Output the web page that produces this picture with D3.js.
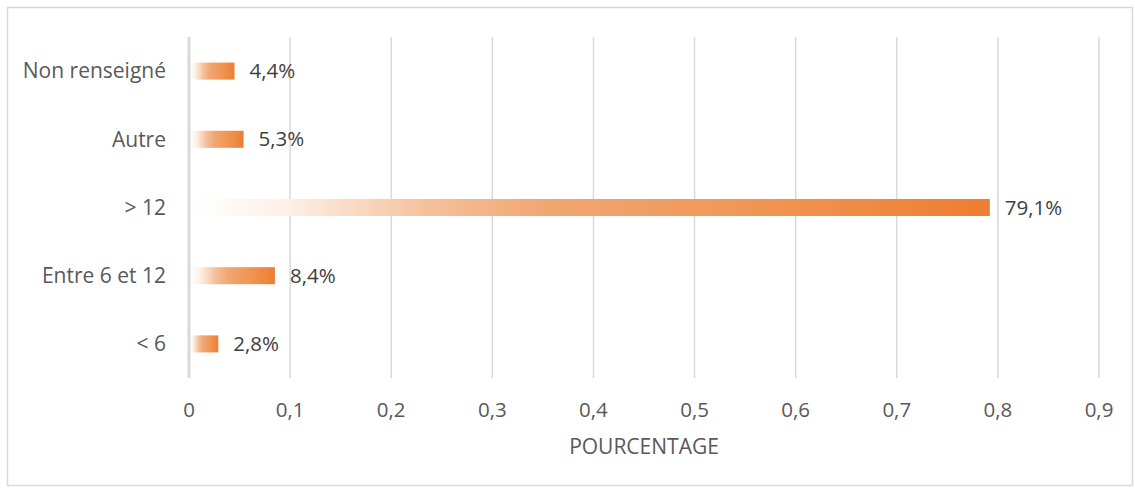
<!DOCTYPE html>
<html><head><meta charset="utf-8">
<script src="https://cdn.jsdelivr.net/npm/d3@7"></script>
<style>
body{margin:0;background:#fff;}
svg{display:block;font-family:"Open Sans",sans-serif;}
</style></head>
<body>
<svg id="c" width="1135" height="488"></svg>
<script>
const categories = ["Non renseigné","Autre","> 12","Entre 6 et 12","< 6"];
const values = [0.044,0.053,0.791,0.084,0.028];
const valueLabels = ["4,4%","5,3%","79,1%","8,4%","2,8%"];
const tickValues = [0,0.1,0.2,0.3,0.4,0.5,0.6,0.7,0.8,0.9];
const tickLabels = ["0","0,1","0,2","0,3","0,4","0,5","0,6","0,7","0,8","0,9"];
const axisTitle = "POURCENTAGE";

const svg = d3.select("#c");
svg.append("rect").attr("x",7.5).attr("y",7.5).attr("width",1125).attr("height",478)
  .attr("fill","#fff").attr("stroke","#d9d9d9").attr("stroke-width",1.5);

const m = {left:189, right:1099, top:37, bottom:378};
const x = d3.scaleLinear().domain([0,0.9]).range([m.left,m.right]);
const y = d3.scaleBand().domain(categories).range([m.top,m.bottom]).paddingInner(0.75).paddingOuter(0.375);

const defs = svg.append("defs");
const g = defs.append("linearGradient").attr("id","grad").attr("x1","0").attr("x2","1").attr("y1","0").attr("y2","0");
[[0,"#ffffff"],[0.12,"#fdf0e6"],[0.3,"#f5c09a"],[0.45,"#f0a673"],[0.75,"#ef934f"],[1,"#ed7d31"]]
  .forEach(([o,c])=>g.append("stop").attr("offset",o).attr("stop-color",c));

// gridlines
svg.append("g").selectAll("line").data(tickValues.slice(1)).join("line")
  .attr("x1",d=>x(d)).attr("x2",d=>x(d)).attr("y1",m.top).attr("y2",m.bottom)
  .attr("stroke","#d9d9d9").attr("stroke-width",1.5);

// bars
svg.append("g").selectAll("rect").data(categories).join("rect")
  .attr("x",x(0)+1).attr("y",d=>y(d)).attr("height",y.bandwidth())
  .attr("width",(d,i)=>x(values[i])-x(0)).attr("fill","url(#grad)");

// axis line
svg.append("line").attr("x1",x(0)).attr("x2",x(0)).attr("y1",m.top).attr("y2",m.bottom)
  .attr("stroke","#d9d9d9").attr("stroke-width",3);

// category labels
svg.append("g").selectAll("text").data(categories).join("text")
  .attr("x",m.left-23).attr("y",d=>y(d)+y.bandwidth()/2).attr("dy","0.35em")
  .attr("text-anchor","end").attr("fill","#595959").attr("font-size",21).text(d=>d);

// value labels
svg.append("g").selectAll("text").data(valueLabels).join("text")
  .attr("x",(d,i)=>x(values[i])+16).attr("y",(d,i)=>y(categories[i])+y.bandwidth()/2).attr("dy","0.35em")
  .attr("fill","#404040").attr("font-size",20.5).text(d=>d);

// tick labels
svg.append("g").selectAll("text").data(tickValues).join("text")
  .attr("x",d=>x(d)).attr("y",410).attr("dy","0.35em").attr("text-anchor","middle")
  .attr("fill","#595959").attr("font-size",20.5).text((d,i)=>tickLabels[i]);

svg.append("text").attr("x",(m.left+m.right)/2).attr("y",447).attr("dy","0.35em")
  .attr("text-anchor","middle").attr("fill","#595959").attr("font-size",21).text(axisTitle);
</script>
</body></html>
